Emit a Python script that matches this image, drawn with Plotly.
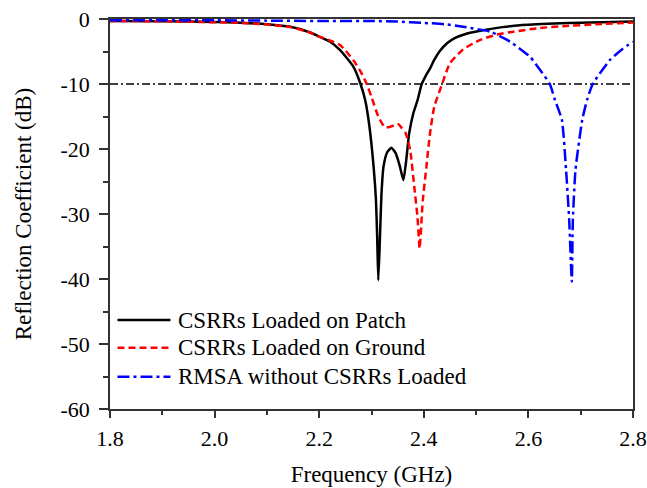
import plotly.graph_objects as go

# ---- data ----
freq_patch = [1.80, 1.90, 2.00, 2.05, 2.10, 2.145, 2.18, 2.20, 2.221, 2.24, 2.265, 2.279,
              2.288, 2.296, 2.304, 2.3085, 2.311, 2.313, 2.316, 2.319, 2.323, 2.33, 2.338,
              2.346, 2.354, 2.361, 2.366, 2.372, 2.38, 2.388, 2.396, 2.404, 2.412, 2.42,
              2.431, 2.445, 2.46, 2.48, 2.508, 2.55, 2.584, 2.65, 2.70, 2.80]
s11_patch = [-0.30, -0.35, -0.45, -0.57, -0.80, -1.2, -2.0, -2.7, -3.5, -4.8, -7.3, -10.0,
             -12.5, -16.5, -22.7, -27.8, -34.0, -40.2, -34.0, -27.0, -22.7, -20.5, -19.8,
             -20.6, -22.6, -24.8, -22.0, -17.6, -14.5, -12.5, -10.0, -8.7, -7.6, -6.3,
             -4.9, -3.7, -2.9, -2.3, -1.8, -1.25, -0.95, -0.7, -0.57, -0.4]

freq_ground = [1.80, 1.90, 2.00, 2.05, 2.10, 2.145, 2.18, 2.20, 2.22, 2.24, 2.265, 2.28,
               2.291, 2.30, 2.313, 2.325, 2.335, 2.345, 2.352, 2.358, 2.365, 2.374, 2.382,
               2.388, 2.392, 2.398, 2.405, 2.412, 2.42, 2.435, 2.45, 2.475, 2.508, 2.54,
               2.571, 2.62, 2.667, 2.73, 2.80]
s11_ground = [-0.30, -0.35, -0.50, -0.60, -0.85, -1.25, -2.0, -2.7, -3.3, -4.0, -6.3, -8.2,
              -10.0, -12.0, -15.0, -16.6, -16.6, -16.3, -16.2, -16.8, -17.5, -20.2, -26.0,
              -30.5, -35.3, -28.0, -22.7, -17.5, -13.5, -10.0, -6.8, -4.7, -3.2, -2.4,
              -1.95, -1.4, -1.1, -0.8, -0.55]

freq_rmsa = [1.80, 1.90, 2.00, 2.10, 2.20, 2.30, 2.35, 2.40, 2.44, 2.475, 2.527, 2.565,
             2.603, 2.622, 2.641, 2.651, 2.664, 2.672, 2.678, 2.683, 2.685, 2.69, 2.703,
             2.712, 2.723, 2.756, 2.78, 2.80]
s11_rmsa = [-0.20, -0.20, -0.20, -0.25, -0.30, -0.30, -0.40, -0.60, -0.80, -1.2, -1.95, -3.5,
            -5.8, -7.8, -10.0, -12.5, -15.5, -23.2, -30.9, -40.4, -30.9, -23.2, -15.5,
            -12.5, -10.0, -6.3, -4.6, -3.5]

series_names = ["CSRRs Loaded on Patch", "CSRRs Loaded on Ground", "RMSA without CSRRs Loaded"]

threshold_db = -10
x_ticks = [1.8, 2.0, 2.2, 2.4, 2.6, 2.8]
x_tick_labels = ["1.8", "2.0", "2.2", "2.4", "2.6", "2.8"]
y_ticks = [0, -10, -20, -30, -40, -50, -60]
y_tick_labels = ["0", "-10", "-20", "-30", "-40", "-50", "-60"]

FONT = "Liberation Serif, Times New Roman, serif"
styles = [
    dict(color="black", width=2.5, dash="solid"),
    dict(color="#ff0000", width=2.5, dash="7px,4px"),
    dict(color="#0000ff", width=2.5, dash="12px,4px,3px,4px"),
]

fig = go.Figure()
for fx, fy, name, st in zip([freq_patch, freq_ground, freq_rmsa],
                            [s11_patch, s11_ground, s11_rmsa], series_names, styles):
    fig.add_trace(go.Scatter(x=fx, y=fy, mode="lines", name=name, showlegend=False,
                             line=dict(shape="spline", smoothing=0.5, **st)))

fig.add_shape(type="line", xref="paper", x0=0, x1=1, yref="y", y0=threshold_db, y1=threshold_db,
              line=dict(color="black", width=1.5, dash="8px,3px,2px,3px"), layer="below")

# legend drawn inside the plot area, bottom-left (sample line + label)
legend_y = [0.228, 0.157, 0.083]
for name, st, ly in zip(series_names, styles, legend_y):
    fig.add_shape(type="line", xref="paper", yref="paper", x0=0.0143, x1=0.1156, y0=ly, y1=ly,
                  line=dict(color=st["color"], width=2.5, dash=st["dash"]))
    fig.add_annotation(xref="paper", yref="paper", x=0.127, y=ly, text=name, showarrow=False,
                       xanchor="left", yanchor="middle",
                       font=dict(family=FONT, size=23, color="black"))

axis_common = dict(showgrid=False, zeroline=False, showline=True, linecolor="#333333",
                   linewidth=1.6, mirror=True, ticks="outside", tickcolor="#333333",
                   tickwidth=1.6, tickfont=dict(family=FONT, size=22, color="black"))

fig.update_xaxes(range=[1.8, 2.8], tickvals=x_ticks, ticktext=x_tick_labels, ticklen=7,
                 minor=dict(dtick=0.1, ticks="outside", ticklen=4, tickcolor="#333333", tickwidth=1.6),
                 ticklabelstandoff=2,
                 title=dict(text="Frequency (GHz)", font=dict(family=FONT, size=23, color="black"),
                            standoff=16),
                 **axis_common)
fig.update_yaxes(range=[-60, 0], tickvals=y_ticks, ticktext=y_tick_labels, ticklen=9,
                 minor=dict(dtick=5, ticks="outside", ticklen=5, tickcolor="#333333", tickwidth=1.6),
                 ticklabelstandoff=5,
                 title=dict(text="Reflection Coefficient (dB)", font=dict(family=FONT, size=23, color="black"),
                            standoff=22),
                 **axis_common)

fig.update_layout(
    width=647, height=488,
    margin=dict(l=109.5, r=14, t=19, b=79, autoexpand=False),
    plot_bgcolor="white", paper_bgcolor="white",
    font=dict(family=FONT, size=22, color="black"),
    showlegend=False,
)

fig.write_html("out.html")
